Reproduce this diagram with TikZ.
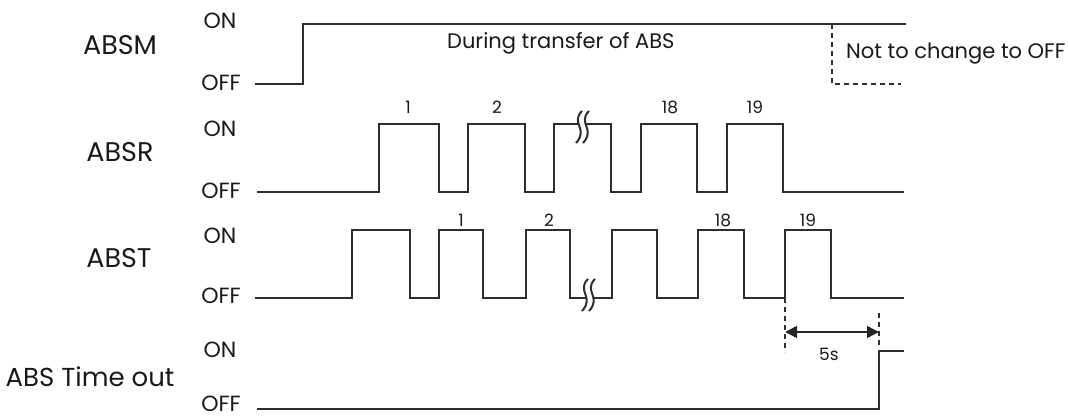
\documentclass[tikz,border=0pt]{standalone}
\usepackage{fontspec}
\setmainfont{Poppins}
\usetikzlibrary{arrows.meta}
\begin{document}
\begin{tikzpicture}[x=1pt,y=-1pt,
  sig/.style={line width=1.7pt,draw=black!82,line join=miter},
  dsh/.style={line width=1.5pt,draw=black!82,dash pattern=on 5pt off 4pt},
  big/.style={font=\fontsize{27}{30}\selectfont,text=black!90,inner sep=0pt},
  lvl/.style={font=\fontsize{22}{25}\selectfont,text=black!90,inner sep=0pt},
  note/.style={font=\fontsize{21}{24}\selectfont,text=black!90,inner sep=0pt},
  num/.style={font=\fontsize{17}{19}\selectfont,text=black!90,inner sep=0pt},
  brk/.pic={
    \fill[white] (3,-16) .. controls (-9,-4) and (10,2) .. (-3,16) -- (4,16) .. controls (17,2) and (-2,-4) .. (10,-16) -- cycle;
    \draw[line width=2pt,black!82] (3,-16) .. controls (-9,-4) and (10,2) .. (-3,16);
    \draw[line width=2pt,black!82] (10,-16) .. controls (-2,-4) and (17,2) .. (4,16);
  }]
\useasboundingbox (0,0) rectangle (1068,419);

% ---------------- ABSM
\node[big] (absm) at (120,45) {ABSM};
\node[lvl] (absmon) at (220,21) {ON};
\node[lvl] (absmoff) at (221,83) {OFF};
\draw[sig] (255,84) -- (303,84) -- (303,24) -- (906,24);
\draw[dsh] (832,24) -- (832,84) -- (901,84);
\node[note,anchor=west] (during) at (447,43) {During transfer of ABS};
\node[note,anchor=west] (notoff) at (846,54) {Not to change to OFF};

% ---------------- ABSR
\node[big] (absr) at (120,152) {ABSR};
\node[lvl] (absron) at (220,129) {ON};
\node[lvl] (absroff) at (221,191) {OFF};
\draw[sig] (257,192) -- (379,192) -- (379,124) -- (439,124) -- (439,192)
  -- (468,192) -- (468,124) -- (525,124) -- (525,192)
  -- (554,192) -- (554,124) -- (611,124) -- (611,192)
  -- (641,192) -- (641,124) -- (697,124) -- (697,192)
  -- (727,192) -- (727,124) -- (783,124) -- (783,192) -- (904,192);
\pic at (579,127) {brk};
\node[num] (r1) at (408,107) {1};
\node[num] (r2) at (497,107) {2};
\node[num] (r18) at (670,107) {18};
\node[num] (r19) at (755,107) {19};

% ---------------- ABST
\node[big] (abst) at (119,258) {ABST};
\node[lvl] (abston) at (220,236) {ON};
\node[lvl] (abstoff) at (221,296) {OFF};
\draw[sig] (255,298) -- (352,298) -- (352,230) -- (410,230) -- (410,298)
  -- (439,298) -- (439,230) -- (483,230) -- (483,298)
  -- (526,298) -- (526,230) -- (570,230) -- (570,298)
  -- (612,298) -- (612,230) -- (657,230) -- (657,298)
  -- (698,298) -- (698,230) -- (744,230) -- (744,298)
  -- (785,298) -- (785,230) -- (831,230) -- (831,298) -- (904,298);
\pic at (585,295) {brk};
\node[num] (t1) at (461,220) {1};
\node[num] (t2) at (549,220) {2};
\node[num] (t18) at (723,220) {18};
\node[num] (t19) at (808,220) {19};

% ---------------- ABS Time out
\node[big,font=\fontsize{26}{29}\selectfont] (abstime) at (90,377) {ABS Time out};
\node[lvl] (timeon) at (220,350) {ON};
\node[lvl] (timeoff) at (221,404) {OFF};
\draw[sig] (257,409) -- (879,409) -- (879,351) -- (904,351);
\coordinate (da) at (785,298);
\coordinate (db) at (879,313);
\draw[dsh] (da) -- (785,352);
\draw[dsh] (db) -- (879,346);
\coordinate (aa) at (785,332);
\coordinate (ab) at (879,332);
\draw[line width=1.5pt,black!85,{Triangle[length=12pt,width=12pt]}-{Triangle[length=12pt,width=12pt]}] (aa) -- (ab);
\node[num] (fives) at (829,354) {5s};
\end{tikzpicture}
\end{document}
